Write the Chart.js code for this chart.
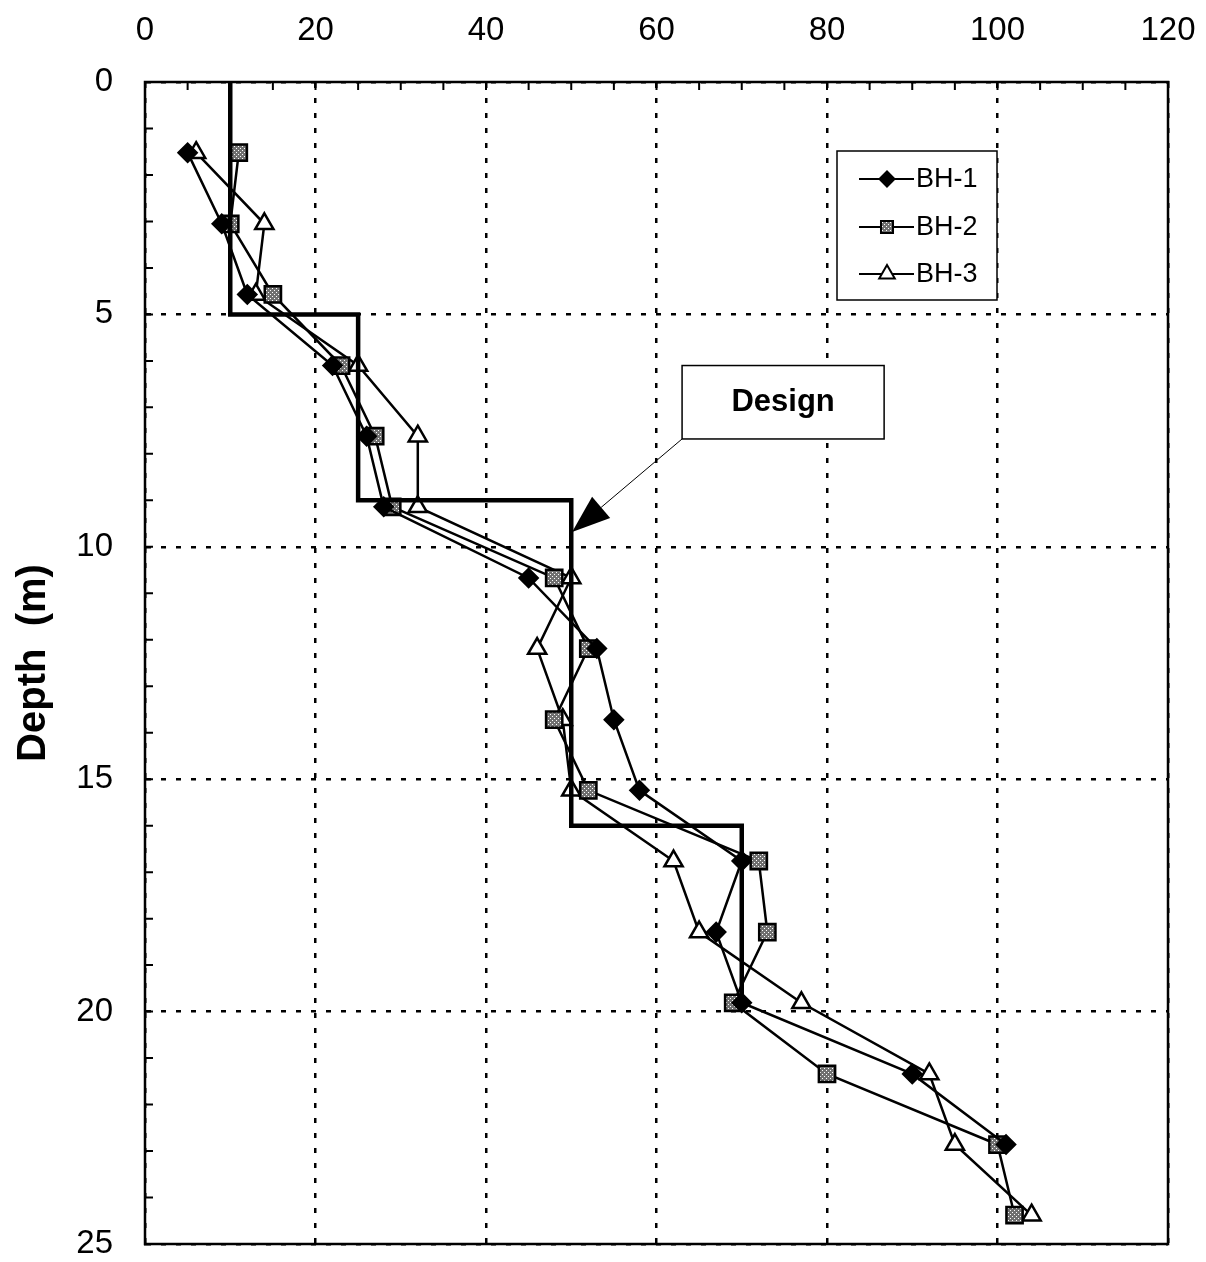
<!DOCTYPE html>
<html>
<head>
<meta charset="utf-8">
<script src="https://cdn.jsdelivr.net/npm/chart.js@4.4.1/dist/chart.umd.min.js"></script>
<style>
  html, body { margin: 0; padding: 0; background: #fff; }
  #wrap { width: 1206px; height: 1262px; position: relative; }
</style>
</head>
<body>
<div id="wrap"><canvas id="depth-chart"></canvas></div>
<script>
// sample depths (m), every 5 ft
const gDepths = [1.52, 3.05, 4.57, 6.10, 7.62, 9.14, 10.67, 12.19, 13.72, 15.24, 16.76, 18.29, 19.81, 21.34, 22.86, 24.38];
const gBH1 = [5, 9, 12, 22, 26, 28, 45, 53, 55, 58, 70, 67, 70, 90, 101];
const gBH2 = [11, 10, 15, 23, 27, 29, 48, 52, 48, 52, 72, 73, 69, 80, 100, 102];
const gBH3 = [6, 14, 13, 25, 32, 32, 50, 46, 49, 50, 62, 65, 77, 92, 95, 104];
// design profile (step line)
const gDesignValues = [10, 10, 25, 25, 50, 50, 70, 70];
const gDesignDepths = [0, 5, 5, 9, 9, 16, 16, 20];
// ticks
const gXTicks = [0, 20, 40, 60, 80, 100, 120];
const gYTicks = [0, 5, 10, 15, 20, 25];
const gSeriesNames = ['BH-1', 'BH-2', 'BH-3'];

const G_FONT = 'Arial, "Liberation Sans", sans-serif';

// gray checkered fill for BH-2 squares
function makePattern() {
  let vCanvas = document.createElement('canvas');
  vCanvas.width = 4;
  vCanvas.height = 4;
  let vCtx = vCanvas.getContext('2d');
  vCtx.fillStyle = '#707070';
  vCtx.fillRect(0, 0, 4, 4);
  vCtx.fillStyle = '#ffffff';
  vCtx.fillRect(0, 0, 1, 1);
  vCtx.fillRect(2, 2, 1, 1);
  return vCtx.createPattern(vCanvas, 'repeat');
}

function toPoints(pValues, pDepths) {
  return pValues.map((v, i) => ({ x: v, y: pDepths[i] }));
}

const gPattern = makePattern();

const gSeriesStyles = [
  { pointStyle: 'rectRot', radius: 9, fill: '#000', legendRadius: 7.5 },
  { pointStyle: 'rect', radius: 11.5, fill: gPattern, legendRadius: 8.5 },
  { pointStyle: 'triangle', radius: 10.5, fill: '#fff', legendRadius: 9 },
];

let vDatasets = [gBH1, gBH2, gBH3].map((values, i) => ({
  label: gSeriesNames[i],
  data: toPoints(values, gDepths),
  showLine: true,
  borderColor: '#000',
  borderWidth: 2.5,
  pointStyle: gSeriesStyles[i].pointStyle,
  pointRadius: gSeriesStyles[i].radius,
  pointHoverRadius: gSeriesStyles[i].radius,
  pointBackgroundColor: gSeriesStyles[i].fill,
  pointBorderColor: '#000',
  pointBorderWidth: 2.5,
}));

vDatasets.unshift({
  label: 'Design',
  data: toPoints(gDesignValues, gDesignDepths),
  showLine: true,
  borderColor: '#000',
  borderWidth: 4.5,
  pointRadius: 0,
  pointHoverRadius: 0,
});

// frame + inward minor ticks
const framePlugin = {
  id: 'frame',
  beforeDatasetsDraw(chart) {
    let { ctx, chartArea: a, scales } = chart;
    ctx.save();
    ctx.strokeStyle = '#000';
    ctx.lineWidth = 2.5;
    ctx.strokeRect(a.left, a.top, a.right - a.left, a.bottom - a.top);
    ctx.lineWidth = 2;
    ctx.beginPath();
    for (let v = 5; v < 120; v += 5) {
      let px = scales.x.getPixelForValue(v);
      ctx.moveTo(px, a.top);
      ctx.lineTo(px, a.top + 8);
    }
    for (let d = 1; d < 25; d++) {
      let py = scales.y.getPixelForValue(d);
      ctx.moveTo(a.left, py);
      ctx.lineTo(a.left + 8, py);
    }
    ctx.stroke();
    ctx.restore();
  },
};

// legend box inside plot + design callout
const overlayPlugin = {
  id: 'overlay',
  afterDraw(chart) {
    let { ctx, scales } = chart;
    let sx = scales.x, sy = scales.y;
    ctx.save();

    // legend
    ctx.fillStyle = '#fff';
    ctx.fillRect(837, 151, 160, 149);
    ctx.strokeStyle = '#000';
    ctx.lineWidth = 1.5;
    ctx.strokeRect(837, 151, 160, 149);
    ctx.font = '27px ' + G_FONT;
    ctx.textBaseline = 'middle';
    let vRows = [179, 227, 274];
    gSeriesNames.forEach((name, i) => {
      let yy = vRows[i];
      ctx.strokeStyle = '#000';
      ctx.lineWidth = 2;
      ctx.beginPath();
      ctx.moveTo(859, yy);
      ctx.lineTo(914, yy);
      ctx.stroke();
      ctx.fillStyle = gSeriesStyles[i].fill;
      ctx.strokeStyle = '#000';
      ctx.lineWidth = 2;
      Chart.helpers.drawPoint(ctx, {
        pointStyle: gSeriesStyles[i].pointStyle,
        radius: gSeriesStyles[i].legendRadius,
        rotation: 0,
        borderWidth: 2,
      }, 887, yy);
      ctx.fillStyle = '#000';
      ctx.textAlign = 'left';
      ctx.fillText(name, 916, yy + 1);
    });

    // design callout
    let bx1 = sx.getPixelForValue(63), bx2 = sx.getPixelForValue(86.7);
    let by1 = sy.getPixelForValue(6.1), by2 = sy.getPixelForValue(7.68);
    ctx.fillStyle = '#fff';
    ctx.fillRect(bx1, by1, bx2 - bx1, by2 - by1);
    ctx.strokeStyle = '#000';
    ctx.lineWidth = 1.5;
    ctx.strokeRect(bx1, by1, bx2 - bx1, by2 - by1);
    ctx.fillStyle = '#000';
    ctx.font = 'bold 31px ' + G_FONT;
    ctx.textAlign = 'center';
    ctx.fillText('Design', (bx1 + bx2) / 2, (by1 + by2) / 2);

    let tx = sx.getPixelForValue(50.1), ty = sy.getPixelForValue(9.68);
    let dx = tx - bx1, dy = ty - by2;
    let len = Math.sqrt(dx * dx + dy * dy);
    let ux = dx / len, uy = dy / len;
    let hl = 38, hw = 14;
    let cx = tx - ux * hl, cy = ty - uy * hl;
    ctx.lineWidth = 1;
    ctx.beginPath();
    ctx.moveTo(bx1, by2);
    ctx.lineTo(cx, cy);
    ctx.stroke();
    ctx.beginPath();
    ctx.moveTo(tx, ty);
    ctx.lineTo(cx - uy * hw, cy + ux * hw);
    ctx.lineTo(cx + uy * hw, cy - ux * hw);
    ctx.closePath();
    ctx.fill();

    ctx.restore();
  },
};

let vCanvas = document.getElementById('depth-chart').getContext('2d');

new Chart(vCanvas, {
  type: 'scatter',
  data: { datasets: vDatasets },
  options: {
    responsive: true,
    maintainAspectRatio: false,
    animation: false,
    layout: { padding: { left: 0, right: 38, top: 0, bottom: 18 } },
    plugins: {
      legend: { display: false },
      tooltip: { enabled: false },
    },
    scales: {
      x: {
        type: 'linear',
        position: 'top',
        min: 0,
        max: 120,
        afterBuildTicks: (scale) => { scale.ticks = gXTicks.map((v) => ({ value: v })); },
        afterFit: (scale) => {
          scale.height = 82;
          scale.paddingLeft = 0;
          scale.paddingRight = 0;
        },
        ticks: {
          color: '#000',
          font: { family: G_FONT, size: 33 },
          padding: 31,
          maxRotation: 0,
        },
        grid: { color: '#000', lineWidth: 2.5, drawTicks: false },
        border: { display: true, color: '#000', width: 2, dash: [5, 10] },
      },
      y: {
        type: 'linear',
        reverse: true,
        min: 0,
        max: 25,
        afterBuildTicks: (scale) => { scale.ticks = gYTicks.map((v) => ({ value: v })); },
        afterFit: (scale) => {
          scale.width = 145;
          scale.paddingTop = 0;
          scale.paddingBottom = 0;
        },
        ticks: {
          color: '#000',
          font: { family: G_FONT, size: 33 },
          padding: 32,
        },
        grid: { color: '#000', lineWidth: 2.5, drawTicks: false },
        border: { display: true, color: '#000', width: 2, dash: [5, 10] },
        title: {
          display: true,
          text: 'Depth  (m)',
          color: '#000',
          font: { family: G_FONT, size: 40, weight: 'bold' },
          padding: { top: 10, bottom: 0 },
        },
      },
    },
  },
  plugins: [framePlugin, overlayPlugin],
});
</script>
</body>
</html>
